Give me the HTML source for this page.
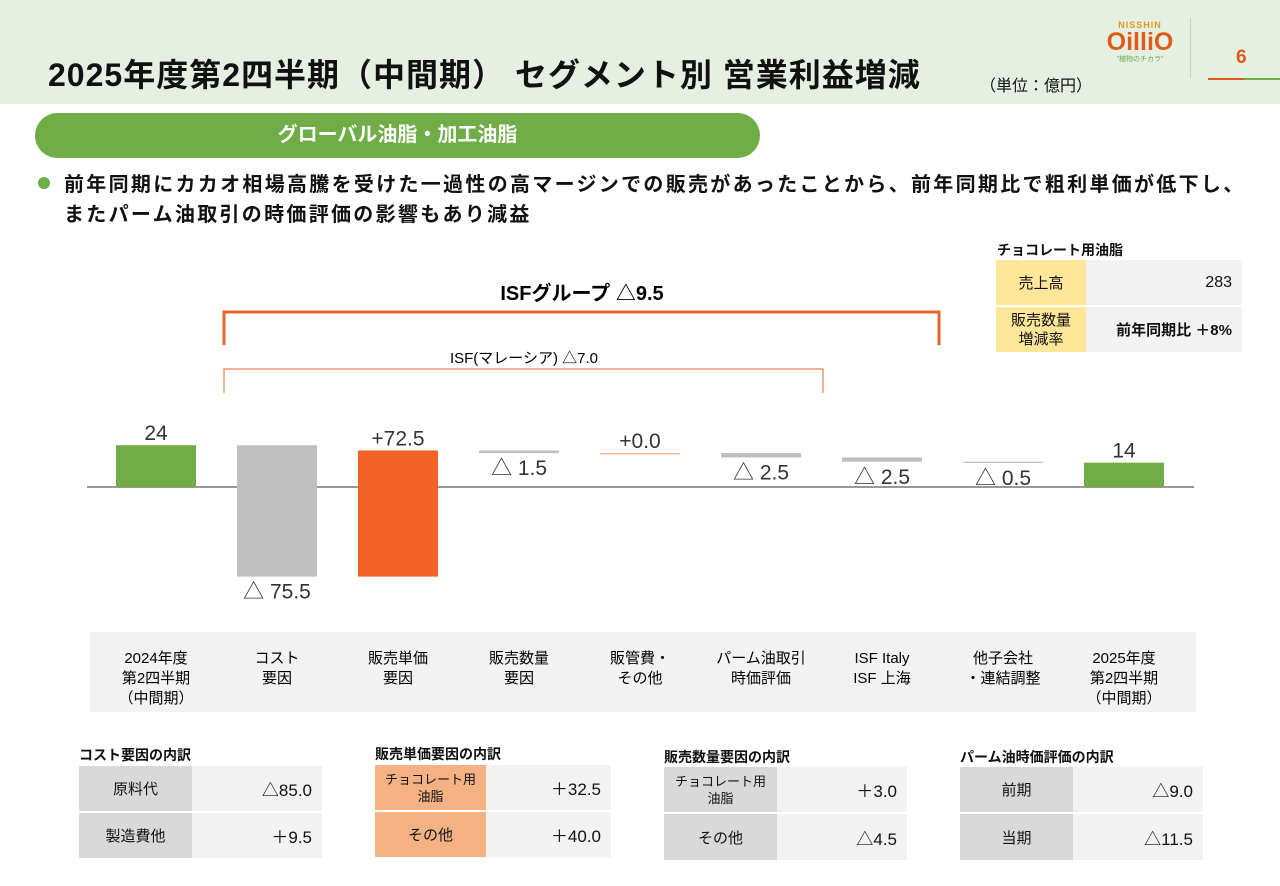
<!DOCTYPE html>
<html><head><meta charset="utf-8">
<style>
body{margin:0;width:1280px;height:886px;position:relative;background:#fff;font-family:"Liberation Sans","Noto Sans CJK JP",sans-serif;color:#111;overflow:hidden}
.a{position:absolute}
table{border-collapse:separate;border-spacing:0 2px;position:absolute;font-size:15px}
td{padding:0}
</style></head><body>
<div class="a" style="left:0;top:0;width:1280px;height:104px;background:#e5f0e3"></div>
<div class="a" style="left:48px;top:50px;font-size:32px;font-weight:bold;white-space:nowrap;letter-spacing:1px">2025年度第2四半期（中間期） セグメント別 営業利益増減</div>
<div class="a" style="left:980px;top:72px;font-size:16px">（単位：億円）</div>
<div class="a" style="left:1100px;top:20px;width:80px;text-align:center">
<div style="font-size:9px;color:#e39a1c;font-weight:bold;letter-spacing:1px">NISSHIN</div>
<div style="font-size:25px;color:#e05a1a;font-weight:bold;line-height:24px">OilliO</div>
<div style="font-size:7px;color:#6aa84f">"植物のチカラ"</div></div>
<div class="a" style="left:1190px;top:18px;width:1px;height:60px;background:#ccc"></div>
<div class="a" style="left:1236px;top:47px;font-size:19px;color:#e05a1a;font-weight:bold">6</div>
<div class="a" style="left:1208px;top:78px;width:36px;height:2px;background:#e05a1a"></div>
<div class="a" style="left:1244px;top:78px;width:36px;height:2px;background:#70ad47"></div>

<div class="a" style="left:35px;top:113px;width:725px;height:45px;background:#70ad47;border-radius:23px;color:#fff;font-size:20px;font-weight:bold;text-align:center;line-height:45px">グローバル油脂・加工油脂</div>
<div class="a" style="left:38px;top:177px;width:12px;height:12px;border-radius:6px;background:#70ad47"></div>
<div class="a" style="left:64px;top:170px;font-size:20px;font-weight:bold;line-height:30px;white-space:nowrap;letter-spacing:2.3px">前年同期にカカオ相場高騰を受けた一過性の高マージンでの販売があったことから、前年同期比で粗利単価が低下し、<br>またパーム油取引の時価評価の影響もあり減益</div>

<div class="a" style="left:997px;top:240px;font-size:14px;font-weight:bold">チョコレート用油脂</div>
<table style="left:996px;top:258px;width:246px">
<tr style="height:45px"><td style="background:#ffe699;width:90px;text-align:center">売上高</td><td style="background:#f2f2f2;text-align:right;padding-right:10px;font-size:16px">283</td></tr>
<tr style="height:45px"><td style="background:#ffe699;text-align:center;line-height:19px">販売数量<br>増減率</td><td style="background:#f2f2f2;text-align:right;padding-right:10px;font-weight:bold">前年同期比 ＋8%</td></tr></table>

<svg class="a" style="left:0;top:0" width="1280" height="720">
<g id="brackets">
<path d="M224 345V312H939V345" fill="none" stroke="#e8642a" stroke-width="3"/>
<text x="582" y="300" text-anchor="middle" font-size="20" font-weight="bold">ISFグループ △9.5</text>
<path d="M224 393V369H823V393" fill="none" stroke="#e8642a" stroke-width="1"/>
<text x="524" y="363" text-anchor="middle" font-size="15">ISF(マレーシア) △7.0</text>
</g>
<rect x="90" y="632" width="1106" height="80" fill="#f2f2f2"/>
<line x1="87" y1="487" x2="1194" y2="487" stroke="#777" stroke-width="1.5"/>
<g id="bars"></g><g id="cats"></g>
</svg>
<script>
const categories=[["2024年度","第2四半期","（中間期）"],["コスト","要因"],["販売単価","要因"],["販売数量","要因"],["販管費・","その他"],["パーム油取引","時価評価"],["ISF Italy","ISF 上海"],["他子会社","・連結調整"],["2025年度","第2四半期","（中間期）"]];
const deltas=[24,-75.5,72.5,-1.5,0.0,-2.5,-2.5,-0.5,14];
const valueLabels=["24","△ 75.5","+72.5","△ 1.5","+0.0","△ 2.5","△ 2.5","△ 0.5","14"];
const kinds=["total","neg","pos","neg","pos","neg","neg","neg","total"];
const NS="http://www.w3.org/2000/svg";
const y0=487,k=1.74,x0=156,dx=121,bw=80;
const ys=v=>y0-v*k;
const bars=document.getElementById('bars'),cats=document.getElementById('cats');
let cum=0;
deltas.forEach((d,i)=>{
 let a,b;
 if(kinds[i]==="total"){a=0;b=d;cum=d;}else{a=cum;b=cum+d;cum=b;}
 const top=Math.min(ys(a),ys(b)),h=Math.max(Math.abs(ys(a)-ys(b)),1.2);
 const cx=x0+i*dx;
 const r=document.createElementNS(NS,'rect');
 
 
 r.setAttribute('x',cx-bw/2);r.setAttribute('y',top);r.setAttribute('width',bw);r.setAttribute('height',h);
 r.setAttribute('fill',kinds[i]==="total"?"#70ad47":kinds[i]==="neg"?"#bfbfbf":(d===0?"#f4b183":"#f26224"));
 bars.appendChild(r);
 const t=document.createElementNS(NS,'text');
 
 
 t.setAttribute('x',cx);t.setAttribute('text-anchor','middle');t.setAttribute('font-size','21');t.setAttribute('fill','#333');
 const below=kinds[i]==="neg";
 t.setAttribute('y',below?top+h+22:top-5);
 t.textContent=valueLabels[i];
 bars.appendChild(t);
 categories[i].forEach((ln,j)=>{
  const c=document.createElementNS(NS,'text');
  
  
  c.setAttribute('x',cx);c.setAttribute('y',663+j*20);c.setAttribute('text-anchor','middle');c.setAttribute('font-size','15');
  c.textContent=ln;cats.appendChild(c);
 });
});
</script>

<div class="a" style="left:79px;top:745px;font-size:14px;font-weight:bold">コスト要因の内訳</div>
<table style="left:79px;top:764px;width:243px">
<tr style="height:45px"><td style="background:#d9d9d9;width:113px;text-align:center">原料代</td><td style="background:#f2f2f2;text-align:right;padding-right:10px;font-size:17px">△85.0</td></tr>
<tr style="height:45px"><td style="background:#d9d9d9;text-align:center">製造費他</td><td style="background:#f2f2f2;text-align:right;padding-right:10px;font-size:17px">＋9.5</td></tr></table>

<div class="a" style="left:375px;top:744px;font-size:14px;font-weight:bold">販売単価要因の内訳</div>
<table style="left:375px;top:763px;width:236px">
<tr style="height:45px"><td style="background:#f4b183;width:111px;text-align:center;font-size:13px;line-height:17px">チョコレート用<br>油脂</td><td style="background:#f2f2f2;text-align:right;padding-right:10px;font-size:17px">＋32.5</td></tr>
<tr style="height:45px"><td style="background:#f4b183;text-align:center">その他</td><td style="background:#f2f2f2;text-align:right;padding-right:10px;font-size:17px">＋40.0</td></tr></table>

<div class="a" style="left:664px;top:747px;font-size:14px;font-weight:bold">販売数量要因の内訳</div>
<table style="left:664px;top:765px;width:243px">
<tr style="height:45px"><td style="background:#d9d9d9;width:113px;text-align:center;font-size:13px;line-height:17px">チョコレート用<br>油脂</td><td style="background:#f2f2f2;text-align:right;padding-right:10px;font-size:17px">＋3.0</td></tr>
<tr style="height:46px"><td style="background:#d9d9d9;text-align:center">その他</td><td style="background:#f2f2f2;text-align:right;padding-right:10px;font-size:17px">△4.5</td></tr></table>

<div class="a" style="left:960px;top:747px;font-size:14px;font-weight:bold">パーム油時価評価の内訳</div>
<table style="left:960px;top:765px;width:243px">
<tr style="height:45px"><td style="background:#d9d9d9;width:113px;text-align:center">前期</td><td style="background:#f2f2f2;text-align:right;padding-right:10px;font-size:17px">△9.0</td></tr>
<tr style="height:46px"><td style="background:#d9d9d9;text-align:center">当期</td><td style="background:#f2f2f2;text-align:right;padding-right:10px;font-size:17px">△11.5</td></tr></table>
</body></html>
